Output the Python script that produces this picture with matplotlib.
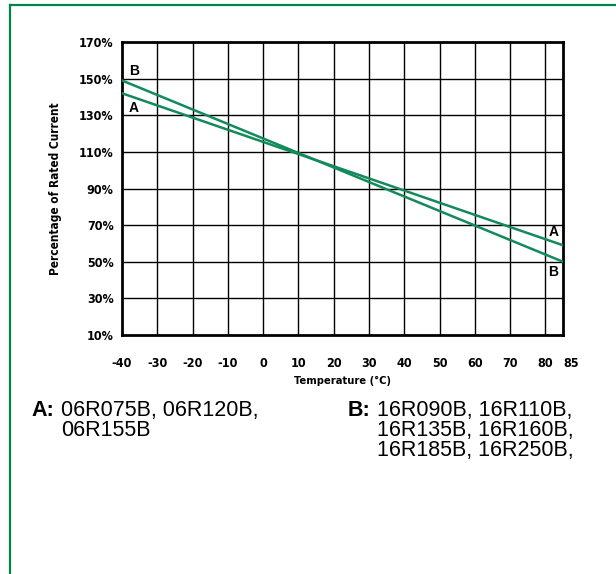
import matplotlib
matplotlib.use('Agg')
import matplotlib.pyplot as plt
from matplotlib.lines import Line2D

# ------------ data ------------
temps = [-40, 85]
curve_a = [142, 59]
curve_b = [149, 50]
xticks = [-40, -30, -20, -10, 0, 10, 20, 30, 40, 50, 60, 70, 80, 85]
yticks = [10, 30, 50, 70, 90, 110, 130, 150, 170]
xgrid = [-30, -20, -10, 0, 10, 20, 30, 40, 50, 60, 70, 80]
ygrid = [30, 50, 70, 90, 110, 130, 150]
parts_a = ['06R075B, 06R120B,', '06R155B']
parts_b = ['16R090B, 16R110B,', '16R135B, 16R160B,', '16R185B, 16R250B,']

green = '#138a5c'
border = '#00844a'
plain = ['Liberation Sans', 'DejaVu Sans']

fig = plt.figure(figsize=(6.16, 5.74), dpi=100)
ax = fig.add_axes([122/616, 1-335/574, (563-122)/616, (335-42)/574])

for g in xgrid:
    ax.axvline(g, color='black', lw=1.0, zorder=1)
for g in ygrid:
    ax.axhline(g, color='black', lw=1.0, zorder=1)

ax.plot(temps, curve_a, color=green, lw=1.8, zorder=3)
ax.plot(temps, curve_b, color=green, lw=1.8, zorder=3)

ax.set_xlim(-40, 85)
ax.set_ylim(10, 170)
ax.set_xticks(xticks)
ax.set_xticklabels([str(v) for v in xticks])
ax.set_yticks(yticks)
ax.set_yticklabels(['%d%%' % v for v in yticks])
for s in ax.spines.values():
    s.set_linewidth(2.0)
ax.tick_params(length=0)
ax.tick_params(axis='x', pad=16)
ax.tick_params(axis='y', pad=6)
for t in ax.get_xticklabels() + ax.get_yticklabels():
    t.set_fontfamily('DejaVu Sans')
    t.set_fontstretch('condensed')
    t.set_fontweight('bold')
    t.set_fontsize(9)
# the last label sits just right of the 85 edge in the original
ax.get_xticklabels()[-1].set_horizontalalignment('left')
ax.get_xticklabels()[-1].set_x(84)

ax.set_xlabel('Temperature (°C)', family='DejaVu Sans', stretch='condensed', weight='heavy', fontsize=8, labelpad=4)
ax.set_ylabel('Percentage of Rated Current', family='DejaVu Sans', stretch='condensed', weight='bold', fontsize=8.5)
ax.yaxis.set_label_coords(-0.136, 0.5)

# curve labels
lab = dict(family=plain, weight='bold', fontsize=10, ha='center', va='center', zorder=4)
ax.text(-36.7, 154, 'B', **lab)
ax.text(-36.7, 134, 'A', **lab)
ax.text(82.3, 66, 'A', **lab)
ax.text(82.3, 44.5, 'B', **lab)

# part number text under the chart
def ypos(px):
    return 1 - px/574

fs = 15.5
fig.text(31/616, ypos(416), 'A:', family=plain, weight='bold', fontsize=fs, va='baseline')
for i, line in enumerate(parts_a):
    fig.text(61/616, ypos(416 + 20*i), line, family=plain, fontsize=fs, va='baseline')
fig.text(348/616, ypos(416), 'B:', family=plain, weight='bold', fontsize=fs, va='baseline')
for i, line in enumerate(parts_b):
    fig.text(377/616, ypos(416 + 20*i), line, family=plain, fontsize=fs, va='baseline')

# green frame (top and left edges only visible)
fig.add_artist(Line2D([10/616, 10/616], [0, ypos(5)], color=border, lw=1.6, transform=fig.transFigure))
fig.add_artist(Line2D([10/616, 1], [ypos(5), ypos(5)], color=border, lw=1.6, transform=fig.transFigure))

fig.savefig('out.png', dpi=100)
